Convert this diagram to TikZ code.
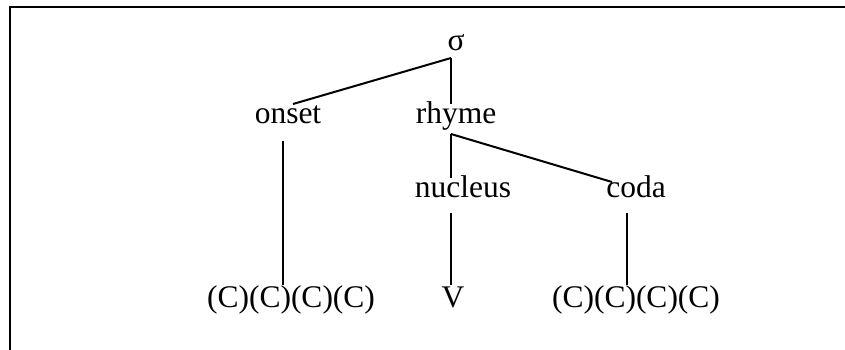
\documentclass[tikz,border=0pt]{standalone}
\usepackage{fontspec}
\setmainfont{Liberation Serif}
\usepackage{tikz}

\begin{document}
\begin{tikzpicture}[x=0.5pt,y=-0.5pt]
\tikzstyle{every node}+=[inner sep=0pt,anchor=base,font=\fontsize{15.75pt}{18pt}\selectfont]
\tikzstyle{branch}=[black,line width=1pt]
\useasboundingbox (0,0) rectangle (845,349);
\draw [black,line width=1pt] (10,360) -- (10,7) -- (850,7);
\node (sigma) at (456,50) {σ};
\node (onset) at (288,123) {onset};
\node (rhyme) at (456,123) {rhyme};
\node (nucleus) at (463,197) {nucleus};
\node (coda) at (636,197) {coda};
\node (onsetC) at (291,307) {(C)(C)(C)(C)};
\node (vowel) at (453,307) {V};
\node (codaC) at (636,307) {(C)(C)(C)(C)};
\coordinate (sigmafoot) at (451,58);
\coordinate (onsethead) at (293,104);
\coordinate (rhymehead) at (451,104);
\coordinate (onsetfoot) at (283,141);
\coordinate (onsetCtop) at (283,285);
\coordinate (rhymefoot) at (451,134);
\coordinate (nucleushead) at (451,178);
\coordinate (codahead) at (612,182);
\coordinate (nucleusfoot) at (451,213);
\coordinate (vowelhead) at (451,285);
\coordinate (codafoot) at (627,213);
\coordinate (codaCtop) at (627,285);
\draw [branch] (sigmafoot) -- (onsethead);
\draw [branch] (sigmafoot) -- (rhymehead);
\draw [branch] (onsetfoot) -- (onsetCtop);
\draw [branch] (rhymefoot) -- (nucleushead);
\draw [branch] (rhymefoot) -- (codahead);
\draw [branch] (nucleusfoot) -- (vowelhead);
\draw [branch] (codafoot) -- (codaCtop);
\end{tikzpicture}
\end{document}
